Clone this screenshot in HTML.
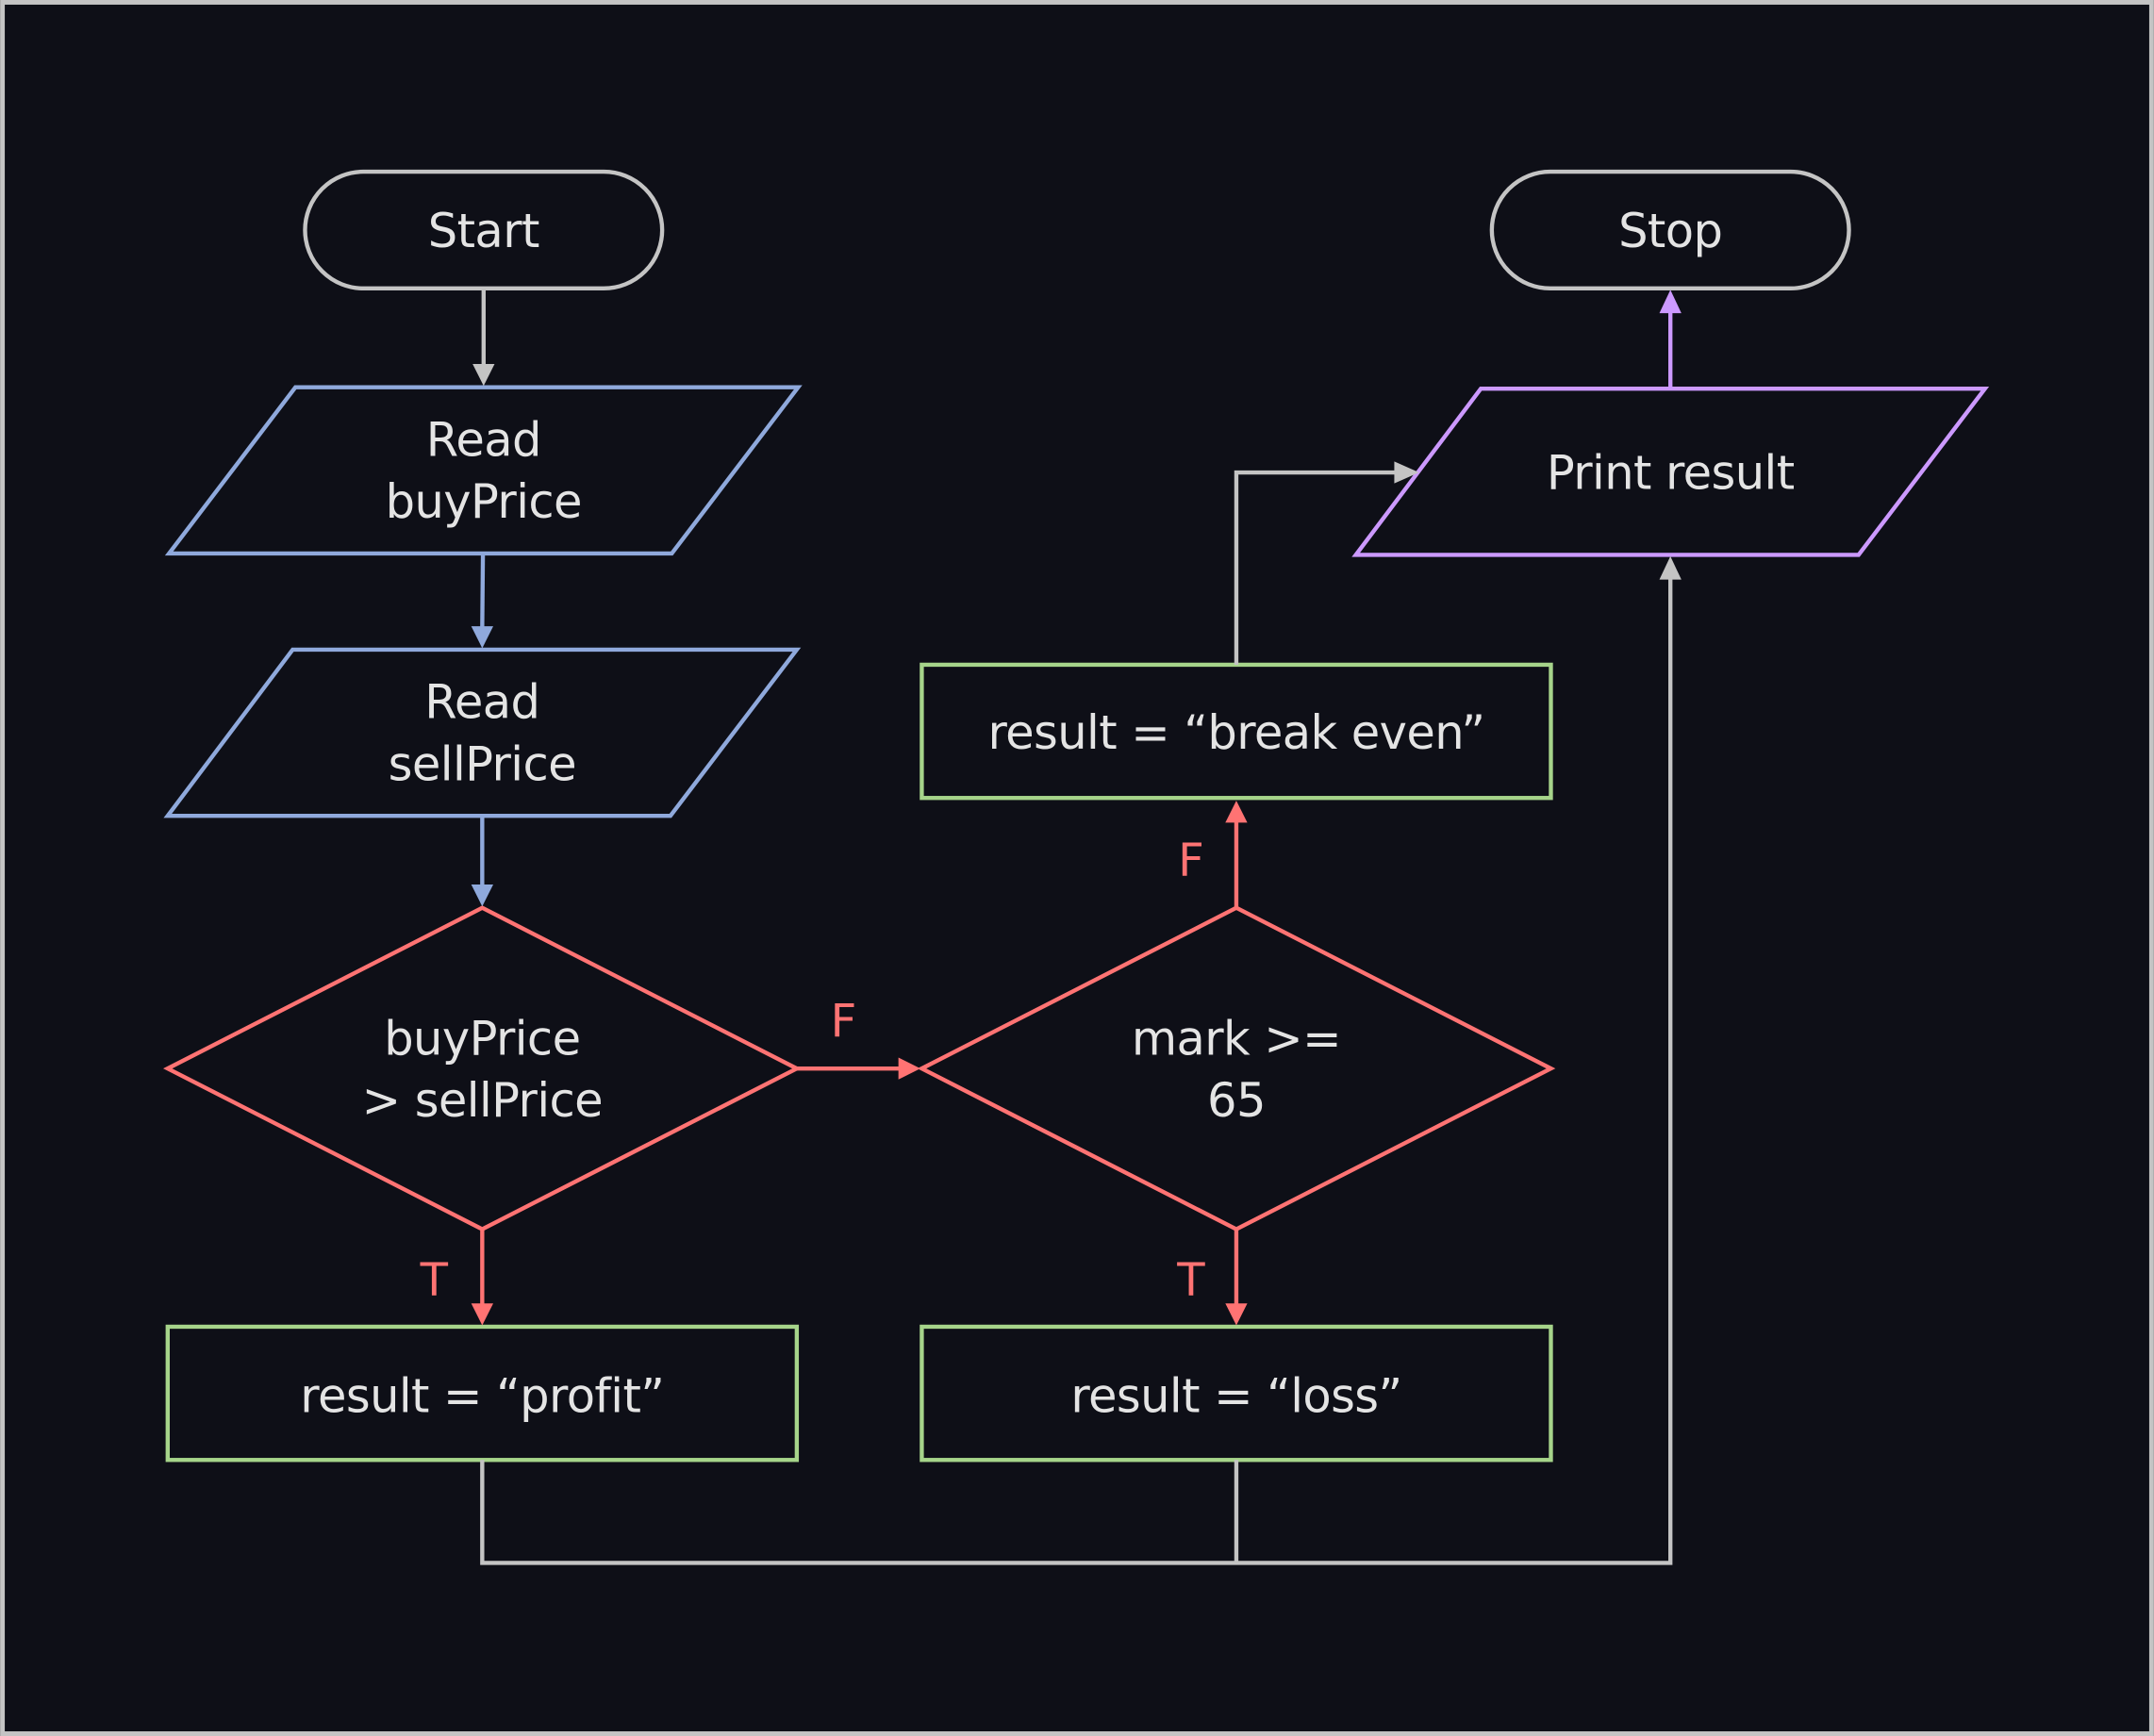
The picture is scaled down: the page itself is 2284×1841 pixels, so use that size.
<!DOCTYPE html>
<html><head><meta charset="utf-8"><style>
html,body{margin:0;padding:0;background:#0e0f17;}
svg{display:block;}
text{font-family:"DejaVu Sans","Liberation Sans",sans-serif;font-size:34px;letter-spacing:-0.4px;fill:#e4e4e4;text-anchor:middle;}
.lab{font-size:33px;fill:#ff7373;letter-spacing:0;}
</style></head><body>
<svg width="2284" height="1841" viewBox="0 0 1568 1264" xmlns="http://www.w3.org/2000/svg">
<rect x="1.7" y="1.7" width="1564.6" height="1260.6" fill="#0e0f17" stroke="#c4c4c4" stroke-width="3.4"/>
<g fill="none" stroke-width="3">
<rect x="222" y="125" width="260" height="85" rx="42.5" stroke="#c4c4c4"/>
<rect x="1086" y="125" width="260" height="85" rx="42.5" stroke="#c4c4c4"/>
<polygon points="215,282 581,282 489,403 123,403" stroke="#8fa9dc"/>
<polygon points="213,473 580,473 488,594 122,594" stroke="#8fa9dc"/>
<polygon points="351,661 580,778 351,895 122,778" stroke="#ff7373"/>
<polygon points="900,661 1129,778 900,895 671,778" stroke="#ff7373"/>
<rect x="122" y="966" width="458" height="97" stroke="#a6d48a"/>
<rect x="671" y="966" width="458" height="97" stroke="#a6d48a"/>
<rect x="671" y="484" width="458" height="97" stroke="#a6d48a"/>
<polygon points="1078,283 1445,283 1353,404 987,404" stroke="#cc99ff"/>
<line x1="352" y1="210" x2="352" y2="266" stroke="#c4c4c4"/>
<line x1="351.5" y1="403" x2="351" y2="457" stroke="#8fa9dc"/>
<line x1="351" y1="594" x2="351" y2="645" stroke="#8fa9dc"/>
<line x1="580" y1="778" x2="655" y2="778" stroke="#ff7373"/>
<line x1="351" y1="895" x2="351" y2="950" stroke="#ff7373"/>
<line x1="900" y1="895" x2="900" y2="950" stroke="#ff7373"/>
<line x1="900" y1="661" x2="900" y2="598" stroke="#ff7373"/>
<polyline points="900,484 900,344 1016,344" stroke="#c4c4c4"/>
<line x1="1216" y1="283" x2="1216" y2="227" stroke="#cc99ff"/>
<polyline points="351,1063 351,1138 1216,1138 1216,421" stroke="#c4c4c4"/>
<line x1="900" y1="1063" x2="900" y2="1138" stroke="#c4c4c4"/>
</g>
<g>
<polygon points="344,265 360,265 352,281" fill="#c4c4c4"/>
<polygon points="343,456 359,456 351,472" fill="#8fa9dc"/>
<polygon points="343,644 359,644 351,660" fill="#8fa9dc"/>
<polygon points="654,770 654,786 670,778" fill="#ff7373"/>
<polygon points="343,949 359,949 351,965" fill="#ff7373"/>
<polygon points="892,949 908,949 900,965" fill="#ff7373"/>
<polygon points="892,599 908,599 900,583" fill="#ff7373"/>
<polygon points="1015,336 1015,352 1033,344" fill="#c4c4c4"/>
<polygon points="1208,228 1224,228 1216,211" fill="#cc99ff"/>
<polygon points="1208,422 1224,422 1216,405" fill="#c4c4c4"/>
</g>
<text x="352" y="180">Start</text>
<text x="1216" y="180">Stop</text>
<text x="352" y="332">Read</text>
<text x="352" y="377">buyPrice</text>
<text x="351" y="523">Read</text>
<text x="351" y="568">sellPrice</text>
<text x="351" y="768">buyPrice</text>
<text x="351" y="813">&gt; sellPrice</text>
<text x="900" y="768">mark &gt;=</text>
<text x="900" y="813">65</text>
<text x="351" y="1028">result = “profit”</text>
<text x="900" y="1028">result = “loss”</text>
<text x="900" y="545">result = “break even”</text>
<text x="1216" y="356">Print result</text>
<text class="lab" x="614" y="755">F</text>
<text class="lab" x="316" y="943">T</text>
<text class="lab" x="867" y="943">T</text>
<text class="lab" x="867" y="638">F</text>
</svg>
</body></html>
